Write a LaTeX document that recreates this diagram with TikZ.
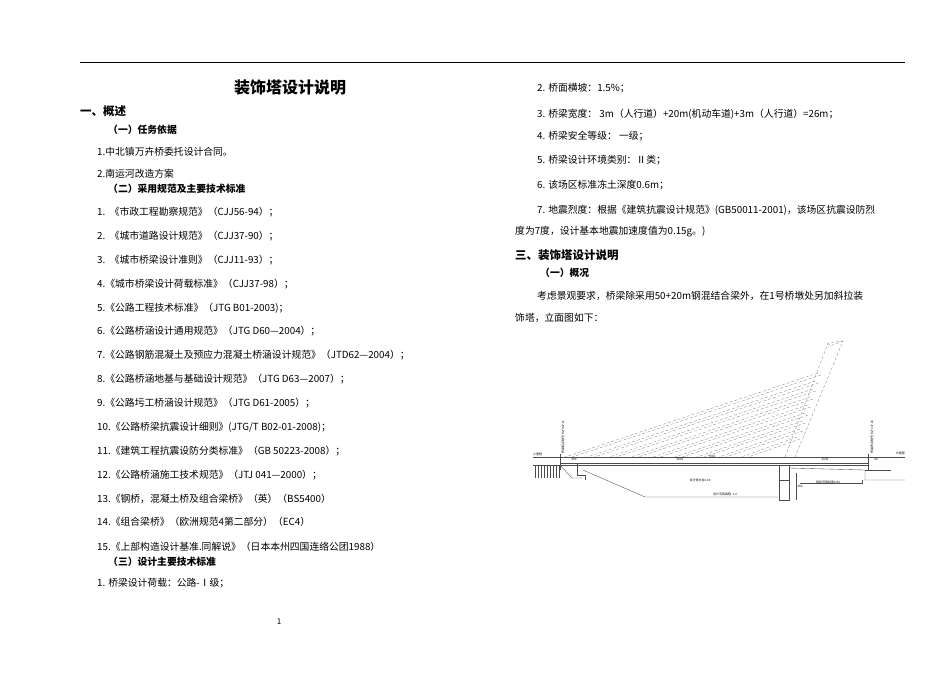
\documentclass[tikz,border=0pt]{standalone}
\usepackage{fontspec}
\setmainfont{Noto Sans CJK SC}
\begin{document}
\begin{tikzpicture}[x=1pt,y=-1pt,
  txt/.style={anchor=west,inner sep=0pt,font=\fontsize{9.8}{10}\selectfont},
  hd/.style={anchor=west,inner sep=0pt,font=\fontsize{11.5}{12}\selectfont\bfseries},
  sh/.style={anchor=west,inner sep=0pt,font=\fontsize{9.8}{10}\selectfont\bfseries},
  tiny/.style={inner sep=0pt,font=\fontsize{3}{3}\selectfont},
  dl/.style={densely dashed,line width=0.3pt,gray},
  ln/.style={line width=0.35pt,black!70}]
\useasboundingbox (0,0) rectangle (950,672);
\fill[white] (0,0) rectangle (950,672);
\draw[line width=0.6pt] (80,62) -- (905,62);
% left column
\node[inner sep=0pt,font=\fontsize{16}{17}\selectfont\bfseries] (title) at (290,87) {装饰塔设计说明};
\node[hd] (h1) at (80,111) {一、概述};
\node[sh] (s1) at (108,130) {（一）任务依据};
\node[txt] (a1) at (97,152) {1.中北镇万卉桥委托设计合同。};
\node[txt] (a2) at (97,174) {2.南运河改造方案};
\node[sh] (s2) at (108,189) {（二）采用规范及主要技术标准};
\node[txt] (b1) at (97,212) {1.\ \ 《市政工程勘察规范》（CJJ56-94）；};
\node[txt] (b2) at (97,236) {2.\ \ 《城市道路设计规范》（CJJ37-90）；};
\node[txt] (b3) at (97,260) {3.\ \ 《城市桥梁设计准则》（CJJ11-93）；};
\node[txt] (b4) at (97,284) {4.《城市桥梁设计荷载标准》（CJJ37-98）；};
\node[txt] (b5) at (97,308) {5.《公路工程技术标准》（JTG B01-2003)；};
\node[txt] (b6) at (97,331) {6.《公路桥涵设计通用规范》（JTG D60—2004）；};
\node[txt] (b7) at (97,355) {7.《公路钢筋混凝土及预应力混凝土桥涵设计规范》（JTD62—2004）；};
\node[txt] (b8) at (97,379) {8.《公路桥涵地基与基础设计规范》（JTG D63—2007）；};
\node[txt] (b9) at (97,403) {9.《公路圬工桥涵设计规范》（JTG D61-2005）；};
\node[txt] (b10) at (97,427) {10.《公路桥梁抗震设计细则》(JTG/T B02-01-2008)；};
\node[txt] (b11) at (97,451) {11.《建筑工程抗震设防分类标准》（GB 50223-2008）；};
\node[txt] (b12) at (97,475) {12.《公路桥涵施工技术规范》（JTJ 041—2000）；};
\node[txt] (b13) at (97,499) {13.《钢桥，混凝土桥及组合梁桥》（英）（BS5400）};
\node[txt] (b14) at (97,522) {14.《组合梁桥》（欧洲规范4第二部分）（EC4）};
\node[txt] (b15) at (97,547) {15.《上部构造设计基准.同解说》（日本本州四国连络公团1988）};
\node[sh] (s3) at (108,562) {（三）设计主要技术标准};
\node[txt] (c1) at (97,583) {1. 桥梁设计荷载：公路-Ⅰ级；};
\node[inner sep=0pt,font=\fontsize{8}{9}\selectfont] (pg) at (279,622) {1};
% right column
\node[txt] (r2) at (537,88) {2. 桥面横坡：1.5\%；};
\node[txt] (r3) at (537,114) {3. 桥梁宽度： 3m（人行道）+20m(机动车道)+3m（人行道）=26m；};
\node[txt] (r4) at (537,136) {4. 桥梁安全等级： 一级；};
\node[txt] (r5) at (537,160) {5. 桥梁设计环境类别：Ⅱ类；};
\node[txt] (r6) at (537,185) {6. 该场区标准冻土深度0.6m；};
\node[txt] (r7) at (537,210) {7. 地震烈度：根据《建筑抗震设计规范》(GB50011-2001)，该场区抗震设防烈};
\node[txt] (r7b) at (515,232) {度为7度，设计基本地震加速度值为0.15g。)};
\node[hd] (h3) at (515,255) {三、装饰塔设计说明};
\node[sh] (s31) at (540,273) {（一）概况};
\node[txt] (p1) at (537,296) {考虑景观要求，桥梁除采用50+20m钢混结合梁外，在1号桥墩处另加斜拉装};
\node[txt] (p2) at (515,318) {饰塔，立面图如下：};
% bridge drawing
\coordinate (dl) at (560,457); \coordinate (dr) at (868,457);
\draw[ln] (dl) -- (dr);
\draw[ln] (560,463) -- (868,463);
\draw[ln] (560,465) -- (868,465);
\draw[ln] (560,454) -- (560,470);
\draw[ln] (868,454) -- (868,470);
% tower (dashed)
\draw[dl] (785,457) -- (828,343) -- (843,341) -- (795,457);
\draw[dl] (828,343) -- (830,346) -- (843,341);
% cables
\foreach \i in {0,...,8}{
  \draw[dl] (818-\i*2.6,373+\i*8) -- (565+\i*22,457);
  \draw[dl] (821-\i*2.6,375+\i*8) -- (572+\i*22,457);
}
% left abutment
\draw[ln] (533,457) -- (560,457);
\node[tiny,anchor=south west] (xl) at (533,456) {小里程};
\draw[ln] (533,465) -- (560,465);
\foreach \x in {535,538,...,559}{\draw[ln] (\x,465) -- (\x,478);}
\draw[ln] (560,465) -- (572,478) -- (583,478);
\draw[ln] (577,463) -- (577,475) -- (585,475) -- (585,480);
\draw[ln] (583,470) -- (645,497) -- (778,497);
% pier
\draw[ln] (779,465) rectangle (789,500);
\draw[ln] (779,480) -- (789,480);
\draw[ln] (796,473) -- (796,500);
\node[tiny] (pdim) at (800,486) {250};
% right side
\draw[ln] (789,468) -- (865,470) -- (865,480) -- (905,480);
\draw[ln] (868,457) -- (905,457);
\draw[ln] (865,470) -- (891,470);
\draw[ln] (800,483) -- (862,483) -- (862,480);
\node[tiny,anchor=south east] (xr) at (905,455) {大里程};
% labels
\node[tiny,rotate=90] (lbl1) at (563,437) {桥梁起点桩号 K2+067.11};
\node[tiny,rotate=90] (lbl2) at (872,437) {桥梁终点桩号 K2+137.25};
\node[tiny] (d1) at (574,459) {400};
\node[tiny] (d2) at (680,459) {5015};
\node[tiny] (d3) at (712,456) {7015};
\node[tiny] (d4) at (825,459) {2035};
\node[tiny] (d5) at (876,459) {40};
\node[tiny] (w1) at (700,480) {设计常水位2.00};
\node[tiny] (w2) at (725,494) {设计河底高程 -1.0};
\node[tiny] (w3) at (828,482) {现状河底标高0.50};
\end{tikzpicture}
\end{document}
